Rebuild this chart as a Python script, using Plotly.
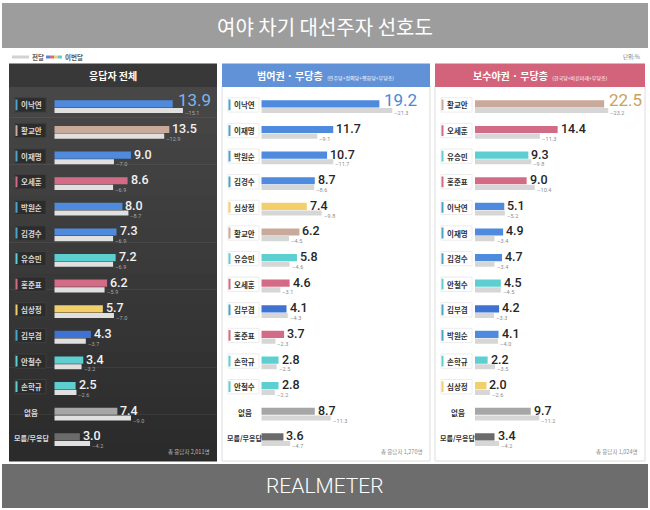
import plotly.graph_objects as go

# ---------------- data ----------------
names_all = ["이낙연", "황교안", "이재명", "오세훈", "박원순", "김경수", "유승민", "홍준표", "심상정", "김부겸", "안철수", "손학규", "없음", "모름/무응답"]
cur_all = [13.9, 13.5, 9.0, 8.6, 8.0, 7.3, 7.2, 6.2, 5.7, 4.3, 3.4, 2.5, 7.4, 3.0]
prev_all = [15.1, 12.9, 7.0, 6.9, 8.7, 6.9, 6.9, 5.9, 7.0, 3.7, 3.2, 2.6, 9.0, 4.2]

names_lib = ["이낙연", "이재명", "박원순", "김경수", "심상정", "황교안", "유승민", "오세훈", "김부겸", "홍준표", "손학규", "안철수", "없음", "모름/무응답"]
cur_lib = [19.2, 11.7, 10.7, 8.7, 7.4, 6.2, 5.8, 4.6, 4.1, 3.7, 2.8, 2.8, 8.7, 3.6]
prev_lib = [21.3, 9.1, 11.7, 8.6, 9.8, 4.5, 4.6, 3.1, 4.3, 2.3, 2.5, 2.2, 11.3, 4.7]

names_con = ["황교안", "오세훈", "유승민", "홍준표", "이낙연", "이재명", "김경수", "안철수", "김부겸", "박원순", "손학규", "심상정", "없음", "모름/무응답"]
cur_con = [22.5, 14.4, 9.3, 9.0, 5.1, 4.9, 4.7, 4.5, 4.2, 4.1, 2.2, 2.0, 9.7, 3.4]
prev_con = [23.2, 11.3, 9.8, 10.4, 5.2, 3.4, 3.4, 4.5, 3.3, 4.0, 3.5, 2.6, 11.2, 4.2]

panel_titles = ["응답자 전체", "범여권 · 무당층", "보수야권 · 무당층"]
panel_subtitles = ["", "(민주당+정의당+평화당+무당층)", "(한국당+바른미래+무당층)"]
panel_notes = ["총 응답자 2,011명", "총 응답자 1,270명", "총 응답자 1,024명"]

BLUE = "#4e8ade"
TAN = "#c9a99a"
PINK = "#d46b86"
CYAN = "#5dcfd0"
YELLOW = "#f1cf6a"
cand_color = {
    "이낙연": BLUE, "이재명": BLUE, "박원순": BLUE, "김경수": BLUE, "김부겸": "#3e73d4",
    "황교안": TAN, "오세훈": PINK, "홍준표": PINK,
    "유승민": CYAN, "안철수": CYAN, "손학규": CYAN, "심상정": YELLOW,
    "없음": "#a6a6a6", "모름/무응답": "#6b6b6b",
}
edge_color = {k: ("#4aa3c9" if v in (BLUE, "#3e73d4") else v) for k, v in cand_color.items()}

W, H = 650, 510
FONT = "Noto Sans CJK KR"


def px(x):
    return x / W


def py(y):
    return 1 - y / H


# panel geometry (pixels)
panels = [
    dict(names=names_all, cur=cur_all, prev=prev_all, left=9, right=217,
         x0=54.3, x1=214, scale=8.52, dark=True, header="#383838", top_col="#7fb4ec"),
    dict(names=names_lib, cur=cur_lib, prev=prev_lib, left=222, right=430,
         x0=261.3, x1=428, scale=6.15, dark=False, header="#6192d8", top_col="#4a86d8"),
    dict(names=names_con, cur=cur_con, prev=prev_con, left=435, right=645,
         x0=475, x1=643, scale=5.74, dark=False, header="#d3637b", top_col="#c9a263"),
]

ROW0, ROWN = 108, 441
nrows = 14
sp = (ROWN - ROW0) / (nrows - 1)
ytop = ROW0 - 0.6 * sp
ybot = ROWN + 0.6 * sp
ydom = [py(ybot), py(ytop)]

fig = go.Figure()
shapes = []
ann = []


def note(x, y, text, size, color, xanchor="center", family=FONT, weight=None, xref="paper", yref="paper"):
    f = dict(family=family, size=size, color=color)
    if weight is not None:
        f["weight"] = weight
    ann.append(dict(xref=xref, yref=yref, x=x, y=y, text=text, showarrow=False,
                    xanchor=xanchor, yanchor="middle", font=f))


# title banner
shapes.append(dict(type="rect", xref="paper", yref="paper", x0=px(2), x1=px(648), y0=py(48), y1=py(3),
                   fillcolor="#9d9d9d", line_width=0, layer="below"))
note(0.5, py(26), "여야 차기 대선주자 선호도", 20, "white")
# footer banner
shapes.append(dict(type="rect", xref="paper", yref="paper", x0=px(2), x1=px(648), y0=py(508), y1=py(464),
                   fillcolor="#6d6d6d", line_width=0, layer="below"))
note(0.5, py(486), "REALMETER", 21, "white", family="Roboto", weight=300)

# legend
shapes.append(dict(type="rect", xref="paper", yref="paper", x0=px(12), x1=px(29), y0=py(58.5), y1=py(55.5),
                   fillcolor="#d2d2d2", line_width=0))
note(px(30), py(57), "<b>전달</b>", 6.5, "#555", xanchor="left")
for i, c in enumerate([BLUE, PINK, YELLOW, CYAN]):
    shapes.append(dict(type="rect", xref="paper", yref="paper", x0=px(46 + 4 * i), x1=px(50 + 4 * i),
                       y0=py(58.5), y1=py(55.5), fillcolor=c, line_width=0))
note(px(63), py(57), "<b>이번달</b>", 6.5, "#555", xanchor="left")
note(px(642), py(57), "단위:%", 5.5, "#777", xanchor="right")

for k, p in enumerate(panels):
    ax = "" if k == 0 else str(k + 1)
    xa, ya = "x" + ax, "y" + ax
    L, R = p["left"], p["right"]
    # panel body
    if p["dark"]:
        nb = 24
        top, bot = 86, 461
        for b in range(nb):
            t = b / (nb - 1)
            c0, c1 = 0x47, 0x2b
            v = int(round(c0 + (c1 - c0) * t))
            col = "#%02x%02x%02x" % (v, v, v)
            y0 = top + (bot - top) * b / nb
            y1 = top + (bot - top) * (b + 1) / nb + 0.5
            shapes.append(dict(type="rect", xref="paper", yref="paper", x0=px(L), x1=px(R), y0=py(y1), y1=py(y0),
                               fillcolor=col, line_width=0, layer="below"))
    else:
        shapes.append(dict(type="rect", xref="paper", yref="paper", x0=px(L), x1=px(R), y0=py(461), y1=py(86),
                           fillcolor="white", line=dict(color="#dcdcdc", width=1), layer="below"))
    # header
    shapes.append(dict(type="rect", xref="paper", yref="paper", x0=px(L), x1=px(R), y0=py(87), y1=py(63.5),
                       fillcolor=p["header"], line_width=0, layer="below"))
    title = "<b>" + panel_titles[k] + "</b>"
    if panel_subtitles[k]:
        title += "  <span style='font-size:5px'>" + panel_subtitles[k] + "</span>"
    note(px((L + R) / 2), py(75.5), title, 10, "white")
    note(px(R - 5), py(452), panel_notes[k], 5.5, "#bbbbbb" if p["dark"] else "#8a8a8a", xanchor="right")

    rows = list(range(nrows))
    colors = [cand_color[n] for n in p["names"]]
    fig.add_trace(go.Bar(orientation="h", x=p["cur"], y=rows, width=0.28, offset=-0.3,
                         marker=dict(color=colors, line_width=0), xaxis=xa, yaxis=ya,
                         hoverinfo="skip", showlegend=False))
    fig.add_trace(go.Bar(orientation="h", x=p["prev"], y=rows, width=0.2, offset=0.0,
                         marker=dict(color="#e0e0e0" if p["dark"] else "#d6d6d6", line_width=0),
                         xaxis=xa, yaxis=ya, hoverinfo="skip", showlegend=False))

    rng = (p["x1"] - p["x0"]) / p["scale"]
    fig.layout["xaxis" + ax] = dict(domain=[px(p["x0"]), px(p["x1"])], range=[0, rng], anchor=ya,
                                    visible=False, fixedrange=True)
    fig.layout["yaxis" + ax] = dict(domain=ydom, range=[nrows - 1 + 0.6, -0.6], anchor=xa,
                                    visible=False, fixedrange=True)

    box_l, box_r = L + 6, L + 37
    txt_main = "#f2f2f2" if p["dark"] else "#262626"
    lab_col = "#d8d8d8" if p["dark"] else "#333333"
    for i, n in enumerate(p["names"]):
        if i < 12:
            shapes.append(dict(type="rect", xref="paper", yref=ya, x0=px(box_l), x1=px(box_r),
                               y0=i - 0.4, y1=i + 0.16,
                               fillcolor="#2c2c2c" if p["dark"] else "white",
                               line=dict(color="#3f3f3f" if p["dark"] else "#ececec", width=1)))
            shapes.append(dict(type="line", xref="paper", yref=ya, x0=px(box_l + 1.5), x1=px(box_l + 1.5),
                               y0=i - 0.33, y1=i + 0.09, line=dict(color=edge_color[n], width=2)))
            note(px(box_l + 4), i - 0.12, "<b>" + n + "</b>", 7.5, lab_col, xanchor="left", yref=ya)
        else:
            note(px((box_l + box_r) / 2 + 1), i - 0.12, "<b>" + n + "</b>", 7 if i == 13 else 7.5,
                 lab_col, yref=ya)
        # current value
        if i == 0:
            ann.append(dict(xref=xa, yref=ya, x=p["cur"][i], y=i - 0.32, text="%.1f" % p["cur"][i],
                            xanchor="left", yanchor="middle", xshift=3, showarrow=False,
                            font=dict(family="Roboto", size=17, color=p["top_col"])))
        else:
            ann.append(dict(xref=xa, yref=ya, x=p["cur"][i], y=i - 0.2, text="%.1f" % p["cur"][i],
                            xanchor="left", yanchor="middle", xshift=1, showarrow=False,
                            font=dict(family="Roboto", size=12.5, color=txt_main, weight=500)))
        # previous value
        ann.append(dict(xref=xa, yref=ya, x=p["prev"][i], y=i + 0.2, text="–%.1f" % p["prev"][i],
                        xanchor="left", yanchor="middle", xshift=0, showarrow=False,
                        font=dict(family="Roboto", size=5.5, color="#a8a8a8" if p["dark"] else "#8c8c8c")))

fig.update_layout(
    width=W, height=H, margin=dict(l=0, r=0, t=0, b=0),
    paper_bgcolor="white", plot_bgcolor="rgba(0,0,0,0)",
    barmode="overlay", shapes=shapes, annotations=ann, showlegend=False,
    font=dict(family=FONT),
)
fig.write_html("out.html", config={"displayModeBar": False},
               post_script="document.body.style.margin='0';document.body.style.overflow='hidden';")
